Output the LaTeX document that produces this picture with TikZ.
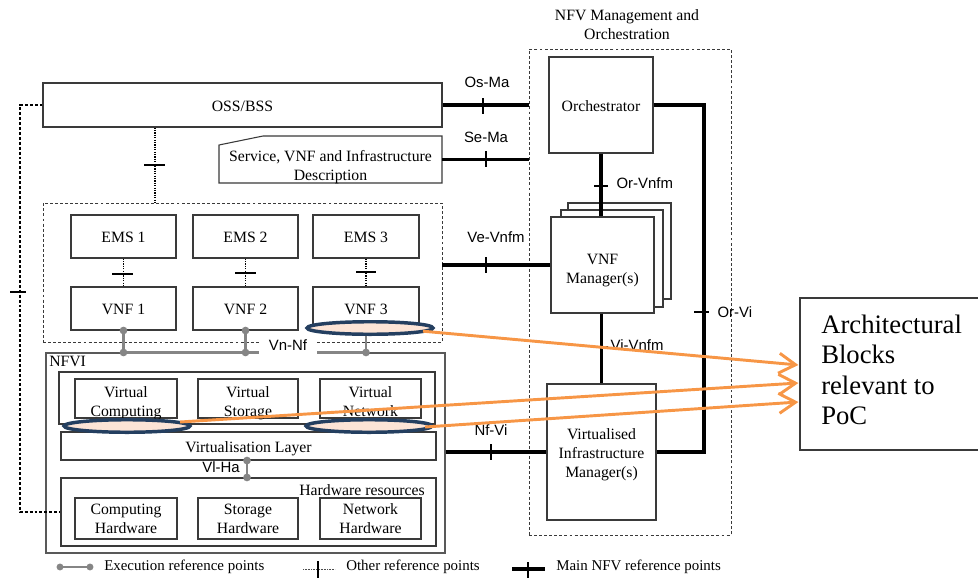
\documentclass[tikz,border=0pt]{standalone}
\usepackage{fontspec}
\setmainfont{Liberation Serif}
\newfontfamily\refsans{Liberation Sans}
\usetikzlibrary{shapes.geometric,arrows.meta}

\definecolor{pocorange}{HTML}{F79646}
\definecolor{ovalnavy}{HTML}{243F60}
\definecolor{ovalfill}{HTML}{FCE4D6}
\definecolor{execgray}{HTML}{858585}
\definecolor{edgegray}{HTML}{3A3A3A}

\newcommand{\boxfont}{\fontsize{11.8}{14.2}\selectfont}
\newcommand{\reffont}{\refsans\fontsize{11.2}{13}\selectfont}
\newcommand{\archfont}{\fontsize{20}{22.6}\selectfont}
\newcommand{\legendfont}{\fontsize{11.2}{13}\selectfont}
% box label: centred lines, set slightly below the geometric centre
\newcommand{\blabel}[2][1.9pt]{\raisebox{-#1}[\height][\depth]{%
  \begin{tabular}{@{}c@{}}#2\end{tabular}}}

\tikzset{
  % a rectangle given by its two corners, in pixel units
  corners/.style n args={4}{
    rectangle, inner sep=0pt,
    minimum width={(#3-#1)*0.75pt}, minimum height={(#4-#2)*0.75pt},
    at={({(#1+#3)/2},{(#2+#4)/2})}},
  blk/.style={draw=edgegray, line width=0.8pt, fill=white, inner sep=0pt,
              font=\boxfont},
  grp/.style={draw=edgegray, line width=0.7pt, dash pattern=on 2.2pt off 1.6pt,
              inner sep=0pt},
  mainref/.style={line width=2.3pt, black},
  tickmark/.style={line width=1.1pt, black},
  otherref/.style={line width=0.9pt, black, dash pattern=on 0.9pt off 0.9pt},
  looplink/.style={line width=2.2pt, black, dash pattern=on 2.2pt off 1.5pt},
  exec/.style={line width=1.6pt, execgray},
  reflabel/.style={font=\reffont, inner sep=1pt},
  oval/.style={ellipse, draw=ovalnavy, line width=2.6pt, fill=ovalfill,
               minimum width=94.5pt, minimum height=9.4pt, inner sep=0pt},
  poc/.style={line width=2.2pt, pocorange,
              -{Straight Barb[length=12.5pt,width=15pt,line width=2.2pt]}},
}

\begin{document}
\begin{tikzpicture}[x=0.75pt,y=-0.75pt]
\useasboundingbox (0,0) rectangle (978,578);

% ---------------- management and orchestration ----------------
\node[grp, corners={529}{49}{731}{535}] (mano) {};
\node[font=\boxfont, align=center] (manotitle) at (627,25)
  {NFV Management and\\Orchestration};

\node[blk, corners={549}{57}{653}{153}] (orch) {\blabel[2.3pt]{Orchestrator}};

% stacked VNF managers
\node[blk, corners={568}{203}{671}{299}] (vnfmc) {};
\node[blk, corners={561}{210}{663}{307}] (vnfmb) {};
\node[blk, corners={551}{217}{654}{313}] (vnfm) {\blabel[3.6pt]{VNF\\Manager(s)}};

\node[blk, corners={547}{384}{656}{520}] (vim)
  {\blabel[2.2pt]{\fontsize{11.8}{15}\selectfont Virtualised\\Infrastructure\\Manager(s)}};

% ---------------- OSS/BSS and descriptions ----------------
\node[blk, corners={43}{83}{442}{127}] (oss) {\blabel{OSS/BSS}};

\node[corners={219}{136}{442}{183}] (desc) {};
\draw[draw=edgegray, line width=0.8pt, fill=white]
  (219,145) -- (263,136) -- (442,136) -- (442,183) -- (219,183) -- cycle;
\node[font=\boxfont, align=center, inner sep=0pt] (desctext) at (330.5,167)
  {Service, VNF and Infrastructure\\Description};

% ---------------- EMS / VNF group ----------------
\node[grp, corners={43}{203}{442}{342}] (vnfgrp) {};

\node[blk, corners={71}{215}{176}{258}] (ems1) {\blabel{EMS 1}};
\node[blk, corners={193}{215}{298}{258}] (ems2) {\blabel{EMS 2}};
\node[blk, corners={313}{215}{419}{258}] (ems3) {\blabel{EMS 3}};
\node[blk, corners={71}{287}{176}{330}] (vnf1) {\blabel{VNF 1}};
\node[blk, corners={193}{287}{298}{330}] (vnf2) {\blabel{VNF 2}};
\node[blk, corners={313}{287}{419}{330}] (vnf3) {\blabel{VNF 3}};

% ---------------- NFVI ----------------
\node[blk, draw=black!65, corners={46}{353}{445}{553}] (nfvi) {};
\node[font=\boxfont, anchor=north west, inner sep=0pt] (nfvilabel) at (49,356) {NFVI};

\node[blk, corners={59}{372}{435}{424}] (vres) {};
\node[blk, corners={75}{379}{177}{418}] (vcomp) {\blabel[3.7pt]{Virtual\\Computing}};
\node[blk, corners={198}{379}{298}{418}] (vstor) {\blabel[3.7pt]{Virtual\\Storage}};
\node[blk, corners={320}{379}{421}{418}] (vnet) {\blabel[3.7pt]{Virtual\\Network}};

\node[blk, corners={61}{432}{436}{460}] (vlayer) {\blabel[2.2pt]{Virtualisation Layer}};

\node[blk, corners={61}{478}{436}{546}] (hw) {};
\node[font=\boxfont, anchor=east, inner sep=0pt] (hwlabel) at (425,490) {Hardware resources};
\node[blk, corners={75}{498}{177}{539}] (chw) {\blabel[1.2pt]{Computing\\Hardware}};
\node[blk, corners={198}{498}{298}{539}] (shw) {\blabel[1.2pt]{Storage\\Hardware}};
\node[blk, corners={320}{498}{421}{539}] (nhw) {\blabel[1.2pt]{Network\\Hardware}};

% ---------------- main NFV reference points ----------------
\draw[mainref] (oss.east) -- (mano.west |- oss.east);
\draw[tickmark] (483,98) -- (483,114);
\node[reflabel] (osma) at (487,82) {Os-Ma};

\draw[mainref] (desc.east) -- (mano.west |- desc.east);
\draw[tickmark] (486,151) -- (486,167);
\node[reflabel] (sema) at (486,137) {Se-Ma};

\draw[mainref] (vnfgrp.east |- vnfm.west) -- (vnfm.west);
\draw[tickmark] (486,257) -- (486,273);
\node[reflabel] (vevnfm) at (496,237) {Ve-Vnfm};

\draw[mainref] (nfvi.east |- vim.west) -- (vim.west);
\draw[tickmark] (491,444) -- (491,460);
\node[reflabel] (nfvi-ref) at (491,430) {Nf-Vi};

\draw[mainref] (orch.south) -- (orch.south |- vnfm.north);
\draw[tickmark] (594,186) -- (608,186);
\node[reflabel, anchor=west] (orvnfm) at (615,183) {Or-Vnfm};

\draw[mainref] (vim.north |- vnfm.south) -- (vim.north);
\draw[tickmark] (595,347) -- (608,347);
\node[reflabel, anchor=west] (vivnfm) at (609,345) {Vi-Vnfm};

\coordinate (orvibus) at (704,300);
\draw[mainref] (orch.east) -| (orvibus) |- (vim.east);
\draw[tickmark] (694,312) -- (709,312);
\node[reflabel, anchor=west] (orvi) at (716,312) {Or-Vi};

% ---------------- other reference points ----------------
\coordinate (ossdrop) at (155,0);
\draw[otherref] (oss.south -| ossdrop) -- (vnfgrp.north -| ossdrop);
\draw[line width=2.2pt] (144,165) -- (165,165);

\draw[otherref] (ems1) -- (vnf1);
\draw[line width=2.2pt] (112,274) -- (133,274);
\draw[otherref] (ems2) -- (vnf2);
\draw[line width=2.2pt] (235,273) -- (256,273);
\draw[otherref] (ems3) -- (vnf3);
\draw[line width=1.4pt] (356,272) -- (376,272);

\coordinate (loopx) at (20,300);
\draw[looplink] (oss.west) -| (loopx) |- (hw.west);
\draw[tickmark, line width=0.9pt] (10,292) -- (26,292);

% ---------------- execution reference points ----------------
\draw[exec] (vnf1.south) -- (vnf1.south |- nfvi.north) -- (vnf3.south |- nfvi.north);
\draw[exec] (vnf2.south) -- (vnf2.south |- nfvi.north);
\draw[exec] (vnf3.south) -- (vnf3.south |- nfvi.north);
\foreach \nd in {vnf1,vnf2,vnf3}{
  \fill[execgray] (\nd.south) circle (2.9pt);
  \fill[execgray] (\nd.south |- nfvi.north) circle (2.9pt);
}
\node[font=\reffont, fill=white, inner sep=0pt, minimum width=44pt,
      minimum height=15pt] (vnnf) at (288,345) {Vn-Nf};

\coordinate (vlhax) at (247,0);
\draw[exec] (vlayer.south -| vlhax) -- (hw.north -| vlhax);
\fill[execgray] (vlayer.south -| vlhax) circle (2.9pt);
\fill[execgray] (hw.north -| vlhax) circle (2.9pt);
\node[reflabel] (vlha) at (221,467) {Vl-Ha};

% ---------------- highlighted blocks ----------------
\node[oval] (ovvnf) at (370,328) {};
\node[oval] (ovvc) at (127,426) {};
\node[oval] (ovvn) at (369,426) {};

\node[draw=edgegray, line width=0.9pt, corners={800}{298}{992}{450}] (arch) {};
\node[font=\archfont, align=left, anchor=north west, inner sep=0pt] (archtext)
  at (821,315) {Architectural\\Blocks\\relevant to\\PoC};

\draw[poc] ([shift={(53,3.2)}]ovvnf.center) -- ([shift={(-1,-9)}]arch.west);
\draw[poc] ([shift={(53,-4)}]ovvc.center) -- ([shift={(-1,9)}]arch.west);
\draw[poc] ([shift={(56,1)}]ovvn.center) -- ([shift={(-1,28)}]arch.west);

% ---------------- legend ----------------
\coordinate (legA) at (60,567);
\coordinate (legB) at (90,567);
\draw[exec] (legA) -- (legB);
\fill[execgray] (legA) circle (2.6pt);
\fill[execgray] (legB) circle (2.6pt);
\node[font=\legendfont, anchor=west, inner sep=0pt] (legexec) at (104,567) {Execution reference points};

\coordinate (legC) at (303,569);
\coordinate (legD) at (335,569);
\draw[line width=0.6pt, black!70, dash pattern=on 0.6pt off 0.6pt] (legC) -- (legD);
\draw[tickmark] (318,561) -- (318,578);
\node[font=\legendfont, anchor=west, inner sep=0pt] (legother) at (346,567) {Other reference points};

\coordinate (legE) at (512,569);
\coordinate (legF) at (545,569);
\draw[mainref] (legE) -- (legF);
\draw[tickmark, line width=1.4pt] (528,562) -- (528,578);
\node[font=\legendfont, anchor=west, inner sep=0pt] (legmain) at (556,567) {Main NFV reference points};
\end{tikzpicture}
\end{document}
